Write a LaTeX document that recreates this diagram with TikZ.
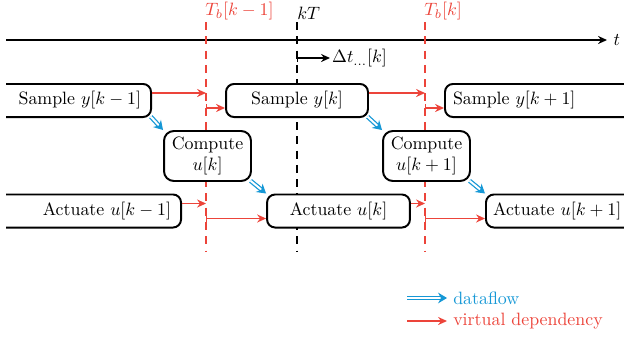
\documentclass[tikz,border=0pt]{standalone}
\usetikzlibrary{arrows.meta,positioning}

\definecolor{vdred}{RGB}{236,68,58}
\definecolor{dfblue}{RGB}{22,152,214}

\tikzset{
  taskbox/.style={draw, fill=white, line width=1.1pt, rounded corners=4.5pt,
    minimum height=18.5pt, inner ysep=2pt},
  vdep/.style={vdred, line width=0.8pt, -{Stealth[length=5pt,width=4.5pt]}},
  vdepbar/.style={vdred, line width=0.8pt, {Bar[width=4.5pt]}-{Stealth[length=5pt,width=4.5pt]}},
  dataflow/.style={dfblue, line width=0.7pt, double=white, double distance=1.1pt,
    -{Stealth[length=5pt,width=6pt]}},
  tline/.style={dash pattern=on 4.5pt off 3.5pt, line width=0.6pt},
}

\begin{document}
\begin{tikzpicture}[x=0.56pt,y=-0.56pt]
  \useasboundingbox (0,0) rectangle (624,339);
  \begin{scope}
  \clip (6,0) rectangle (624,339);

  % time axis
  \coordinate (t0) at (0,40);
  \coordinate (t1) at (607,40);
  \draw[line width=0.8pt, -{Stealth[length=5pt,width=4.5pt]}] (t0) -- (t1) node[right] {$t$};

  % period boundaries
  \coordinate (tbA) at (206,22);
  \coordinate (tbAend) at (206,252);
  \coordinate (tbB) at (425,22);
  \coordinate (tbBend) at (425,252);
  \coordinate (kT) at (297,22);
  \coordinate (kTend) at (297,252);
  \draw[tline, vdred] (tbA) -- (tbAend);
  \draw[tline, vdred] (tbB) -- (tbBend);
  \draw[tline] (kT) -- (kTend);
  \node[anchor=south west, inner sep=1pt, text=vdred, xshift=-1.5pt] at (tbA) {$T_b[k-1]$};
  \node[anchor=south west, inner sep=1pt, text=vdred, xshift=-1.5pt] at (tbB) {$T_b[k]$};
  \node[anchor=south west, inner sep=1pt, xshift=-1pt] at (kT) {$kT$};

  % delay
  \coordinate (dt0) at (297,58);
  \node[anchor=west, inner sep=1pt] (dtlbl) at (330,58) {$\Delta t_{\dots}[k]$};
  \draw[line width=0.8pt, {Bar[width=4.5pt]}-{Stealth[length=5pt,width=4.5pt]}] (dt0) -- (dtlbl.west);

  % tasks
  \node[taskbox, anchor=east, text width=160pt, align=flush right, inner xsep=5.6pt] (s1) at (152,100.5) {Sample~$y[k-1]$};
  \node[taskbox, minimum width=79.5pt] (s2) at (297,100.5) {Sample~$y[k]$};
  \node[taskbox, anchor=west, text width=200pt, align=flush left, inner xsep=4.5pt] (s3) at (444,100.5) {Sample~$y[k+1]$};

  \node[taskbox, minimum width=48.7pt, minimum height=28pt, align=center, rounded corners=5.5pt] (c1) at (207.5,156) {Compute\\$u[k]$};
  \node[taskbox, minimum width=48.7pt, minimum height=28pt, align=center, rounded corners=5.5pt] (c2) at (426.5,156) {Compute\\$u[k+1]$};

  \node[taskbox, anchor=east, text width=180pt, align=flush right, inner xsep=5.6pt] (a1) at (182,211) {Actuate $u[k-1]$};
  \node[taskbox, minimum width=80pt] (a2) at (338.5,211) {Actuate $u[k]$};
  \node[taskbox, anchor=west, text width=200pt, align=flush left, inner xsep=4pt] (a3) at (485,211) {Actuate $u[k+1]$};

  % virtual dependencies
  \coordinate (s1up) at ([yshift=4.2pt]s1.east);
  \coordinate (s2up) at ([yshift=4.2pt]s2.east);
  \coordinate (s2lo) at ([yshift=-4.2pt]s2.west);
  \coordinate (s3lo) at ([yshift=-4.2pt]s3.west);
  \coordinate (a1up) at ([yshift=4.2pt]a1.east);
  \coordinate (a2up) at ([yshift=4.2pt]a2.east);
  \coordinate (a2lo) at ([yshift=-4.2pt]a2.west);
  \coordinate (a3lo) at ([yshift=-4.2pt]a3.west);
  \draw[vdep] (s1up) -- (s1up -| tbA);
  \draw[vdepbar] (s2lo -| tbA) -- (s2lo);
  \draw[vdep] (s2up) -- (s2up -| tbB);
  \draw[vdepbar] (s3lo -| tbB) -- (s3lo);
  \draw[vdep] (a1up) -- (a1up -| tbA);
  \draw[vdepbar] (a2lo -| tbA) -- (a2lo);
  \draw[vdep] (a2up) -- (a2up -| tbB);
  \draw[vdepbar] (a3lo -| tbB) -- (a3lo);

  % dataflow
  \draw[dataflow, shorten <=-1pt] (s1.south east) -- (c1.north west);
  \draw[dataflow, shorten <=-1pt] (c1.south east) -- (a2.north west);
  \draw[dataflow, shorten <=-1pt] (s2.south east) -- (c2.north west);
  \draw[dataflow, shorten <=-1pt] (c2.south east) -- (a3.north west);

  % legend
  \node[anchor=west, text=dfblue] (lgdf) at (447,298) {dataflow};
  \node[anchor=west, text=vdred] (lgvd) at (447,321) {virtual dependency};
  \coordinate (lgdfs) at (407,298);
  \coordinate (lgvds) at (407,321);
  \draw[dataflow] (lgdfs) -- (lgdf.west);
  \draw[vdep] (lgvds) -- (lgvd.west);
  \end{scope}
\end{tikzpicture}
\end{document}
